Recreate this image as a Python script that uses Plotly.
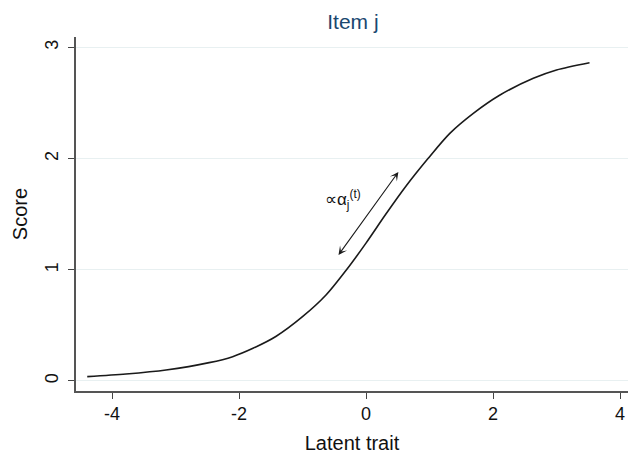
import plotly.graph_objects as go

# Curve points
trait = [-4.39, -3.78, -3.15, -2.47, -2.10, -1.78, -1.42, -1.00, -0.63, -0.31,
         0.00, 0.30, 0.64, 0.98, 1.32, 1.69, 2.11, 2.635, 3.00, 3.52]
score = [0.039, 0.063, 0.099, 0.165, 0.219, 0.294, 0.40, 0.578, 0.773, 0.998,
         1.24, 1.49, 1.76, 2.003, 2.227, 2.407, 2.572, 2.722, 2.797, 2.862]

x_ticks = [-4, -2, 0, 2, 4]
x_tick_text = ["-4", "-2", "0", "2", "4"]
y_ticks = [0, 1, 2, 3]

arrow_start = (-0.45, 1.12)
arrow_end = (0.51, 1.88)
label_text = "∝α<sub>j</sub><sup>(t)</sup>"
label_pos = (-0.36, 1.63)

font_family = "Liberation Sans, Arial, sans-serif"

fig = go.Figure()
fig.add_trace(go.Scatter(x=trait, y=score, mode="lines",
                         line=dict(color="#1a1a1a", width=1.6, shape="spline", smoothing=0.8),
                         hoverinfo="skip", showlegend=False))

fig.add_annotation(x=arrow_end[0], y=arrow_end[1], ax=arrow_start[0], ay=arrow_start[1],
                   xref="x", yref="y", axref="x", ayref="y", text="",
                   showarrow=True, arrowhead=3, startarrowhead=3, arrowside="end+start",
                   arrowsize=1.3, startarrowsize=1.3, arrowwidth=1.1, arrowcolor="#1a1a1a")
fig.add_annotation(x=label_pos[0], y=label_pos[1], xref="x", yref="y",
                   text=label_text, showarrow=False,
                   font=dict(family=font_family, size=17, color="#111111"))

fig.update_layout(
    width=628, height=454,
    margin=dict(l=76, r=0, t=37, b=63),
    paper_bgcolor="white", plot_bgcolor="white",
    font=dict(family=font_family, color="#111111"),
    title=dict(text="Item j", x=0.562, xanchor="center", y=0.952, yanchor="middle",
               font=dict(family=font_family, size=21, color="#1a476f")),
    xaxis=dict(range=[-4.567, 4.126], tickvals=x_ticks, ticktext=x_tick_text,
               ticks="outside", ticklen=6, automargin=False,
               tickwidth=1.3, tickcolor="#444", showline=True, linecolor="#555",
               linewidth=1.6, showgrid=False, zeroline=False,
               tickfont=dict(size=18, color="#111"),
               title=dict(text="Latent trait", font=dict(size=20, color="#111"), standoff=13)),
    yaxis=dict(range=[-0.09, 3.094], tickvals=y_ticks, ticks="outside", ticklen=6,
               automargin=False,
               tickwidth=1.3, tickcolor="#444", showline=True, linecolor="#555",
               linewidth=1.6, showgrid=True, gridcolor="#e8f0f1", gridwidth=1.2,
               zeroline=False, tickangle=-90, ticklabelstandoff=3,
               tickfont=dict(size=18, color="#111"),
               title=dict(text="Score", font=dict(size=20, color="#111"), standoff=9)),
)

# remove the page's default body margin so the 628x454 figure fills the window exactly
fig.write_html("out.html",
               config={"displayModeBar": False},
               post_script="document.body.style.margin='0';document.body.style.overflow='hidden';")
